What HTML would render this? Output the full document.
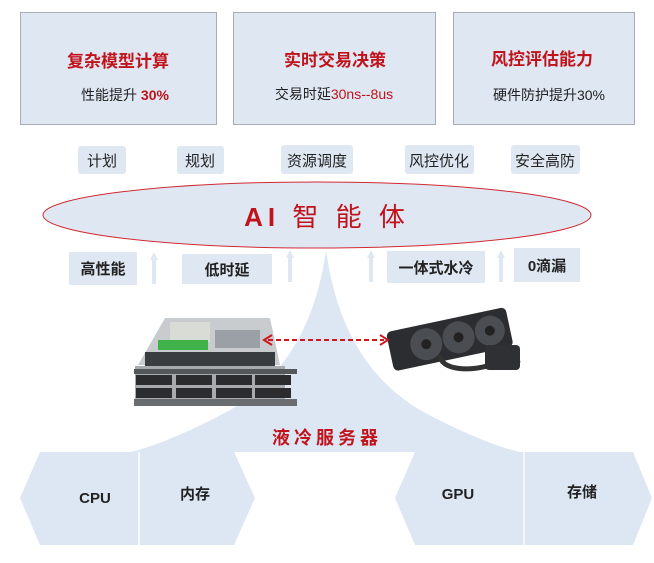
<!DOCTYPE html>
<html><head><meta charset="utf-8"><style>
body{margin:0;background:#fff;}
svg text{font-family:"Liberation Sans","Noto Sans CJK SC",sans-serif;}
</style></head><body>
<svg width="654" height="558" viewBox="0 0 654 558" xmlns="http://www.w3.org/2000/svg">
<rect width="654" height="558" fill="#fff"/>
<!-- mountain -->
<path d="M326,250 C315,330 280,380 230,410 C190,432 150,448 130,452 L520,452 C500,448 460,432 420,410 C370,380 337,330 326,250 Z" fill="#dde7f3"/>
<!-- top boxes -->
<rect x="20.5" y="12.5" width="196" height="112" fill="#dfe7f2" stroke="#a9adb3"/>
<rect x="233.5" y="12.5" width="202" height="112" fill="#dfe7f2" stroke="#a9adb3"/>
<rect x="453.5" y="12.5" width="181" height="112" fill="#dfe7f2" stroke="#a9adb3"/>
<g font-weight="bold" fill="#c0131c" font-size="17" text-anchor="middle">
<text x="118" y="67">复杂模型计算</text>
<text x="335" y="66">实时交易决策</text>
<text x="542" y="65">风控评估能力</text>
</g>
<g font-size="14" fill="#222" text-anchor="middle">
<text x="125" y="100">性能提升 <tspan fill="#c0131c" font-weight="bold">30%</tspan></text>
<text x="334" y="99">交易时延<tspan fill="#c0131c">30ns--8us</tspan></text>
<text x="549" y="100">硬件防护提升30%</text>
</g>
<!-- tags -->
<g fill="#dfe7f2">
<rect x="78" y="146" width="48" height="28" rx="3"/>
<rect x="177" y="146" width="47" height="28" rx="3"/>
<rect x="281" y="145" width="72" height="29" rx="3"/>
<rect x="405" y="145" width="69" height="29" rx="3"/>
<rect x="511" y="145" width="69" height="29" rx="3"/>
</g>
<g font-size="15" fill="#222" text-anchor="middle">
<text x="102" y="166">计划</text>
<text x="200" y="166">规划</text>
<text x="317" y="166">资源调度</text>
<text x="439" y="166">风控优化</text>
<text x="545" y="166">安全高防</text>
</g>
<!-- ellipse -->
<ellipse cx="317" cy="215" rx="274" ry="33" fill="#dfe7f2" stroke="#d02a33" stroke-width="1"/>
<text x="327" y="226" font-size="26" fill="#c0131c" text-anchor="middle" font-weight="bold" letter-spacing="5">AI<tspan font-weight="normal"> 智 能 体</tspan></text>
<!-- row labels -->
<g fill="#dfe7f2">
<rect x="69" y="252" width="68" height="33"/>
<rect x="182" y="254" width="90" height="30"/>
<rect x="387" y="251" width="98" height="32"/>
<rect x="514" y="248" width="66" height="34"/>
</g>
<g font-size="15" fill="#222" text-anchor="middle" font-weight="bold">
<text x="103" y="274">高性能</text>
<text x="227" y="275">低时延</text>
<text x="436" y="273">一体式水冷</text>
<text x="547" y="271">0滴漏</text>
</g>
<g fill="#dfe7f2">
<rect x="152" y="258" width="4" height="26"/><polygon points="150,260 154,252 158,260"/>
<rect x="288" y="256" width="4" height="26"/><polygon points="286,258 290,250 294,258"/>
<rect x="369" y="256" width="4" height="26"/><polygon points="367,258 371,250 375,258"/>
<rect x="499" y="256" width="4" height="26"/><polygon points="497,258 501,250 505,258"/>
</g>
<!-- server -->
<polygon points="165,318 270,318 280,365 138,365" fill="#c9cccf"/>
<rect x="170" y="322" width="40" height="20" fill="#d8dcd4"/>
<rect x="158" y="340" width="50" height="10" fill="#3fb34a"/>
<rect x="215" y="330" width="45" height="18" fill="#9aa0a5"/>
<rect x="145" y="352" width="130" height="14" fill="#3a3d40"/>
<rect x="135" y="366" width="150" height="40" fill="#a8abae"/>
<rect x="134" y="399" width="163" height="7" fill="#6a6d70"/>
<g fill="#2a2c2e">
<rect x="136" y="375" width="36" height="10"/><rect x="176" y="375" width="36" height="10"/><rect x="216" y="375" width="36" height="10"/><rect x="255" y="375" width="36" height="10"/>
<rect x="136" y="388" width="36" height="10"/><rect x="176" y="388" width="36" height="10"/><rect x="216" y="388" width="36" height="10"/><rect x="255" y="388" width="36" height="10"/>
</g>
<rect x="134" y="369" width="163" height="5" fill="#55585b"/>
<!-- cooler -->
<g transform="rotate(-12 455 335)">
<rect x="388" y="318" width="122" height="40" rx="5" fill="#2b2d30"/>
<circle cx="425" cy="338" r="16" fill="#4a4d52"/><circle cx="458" cy="338" r="16" fill="#4a4d52"/><circle cx="490" cy="338" r="15" fill="#4a4d52"/>
<circle cx="425" cy="338" r="5" fill="#222"/><circle cx="458" cy="338" r="5" fill="#222"/><circle cx="490" cy="338" r="5" fill="#222"/>
</g>
<path d="M440,355 C440,370 470,372 490,365 L520,360" stroke="#333" stroke-width="5" fill="none"/>
<rect x="485" y="345" width="35" height="25" rx="4" fill="#2e3033"/>
<!-- dashed arrow -->
<line x1="268" y1="340" x2="384" y2="340" stroke="#d0151c" stroke-width="2" stroke-dasharray="5,3"/>
<polyline points="272,335 264,340 272,345" fill="none" stroke="#d0151c" stroke-width="2"/>
<polyline points="380,335 388,340 380,345" fill="none" stroke="#d0151c" stroke-width="2"/>
<text x="327" y="444" font-size="18" font-weight="bold" fill="#c0131c" text-anchor="middle" letter-spacing="4">液冷服务器</text>
<!-- hexagons -->
<polygon points="40,452 234,452 255,498 234,545 40,545 20,498" fill="#dde7f3"/>
<line x1="139" y1="452" x2="139" y2="545" stroke="#fff" stroke-width="1.5"/>
<polygon points="415,452 633,452 652,498 633,545 415,545 395,498" fill="#dde7f3"/>
<line x1="524" y1="452" x2="524" y2="545" stroke="#fff" stroke-width="1.5"/>
<g font-size="15" font-weight="bold" fill="#222" text-anchor="middle">
<text x="95" y="503">CPU</text>
<text x="195" y="499">内存</text>
<text x="458" y="499">GPU</text>
<text x="582" y="497">存储</text>
</g>
</svg>
</body></html>
